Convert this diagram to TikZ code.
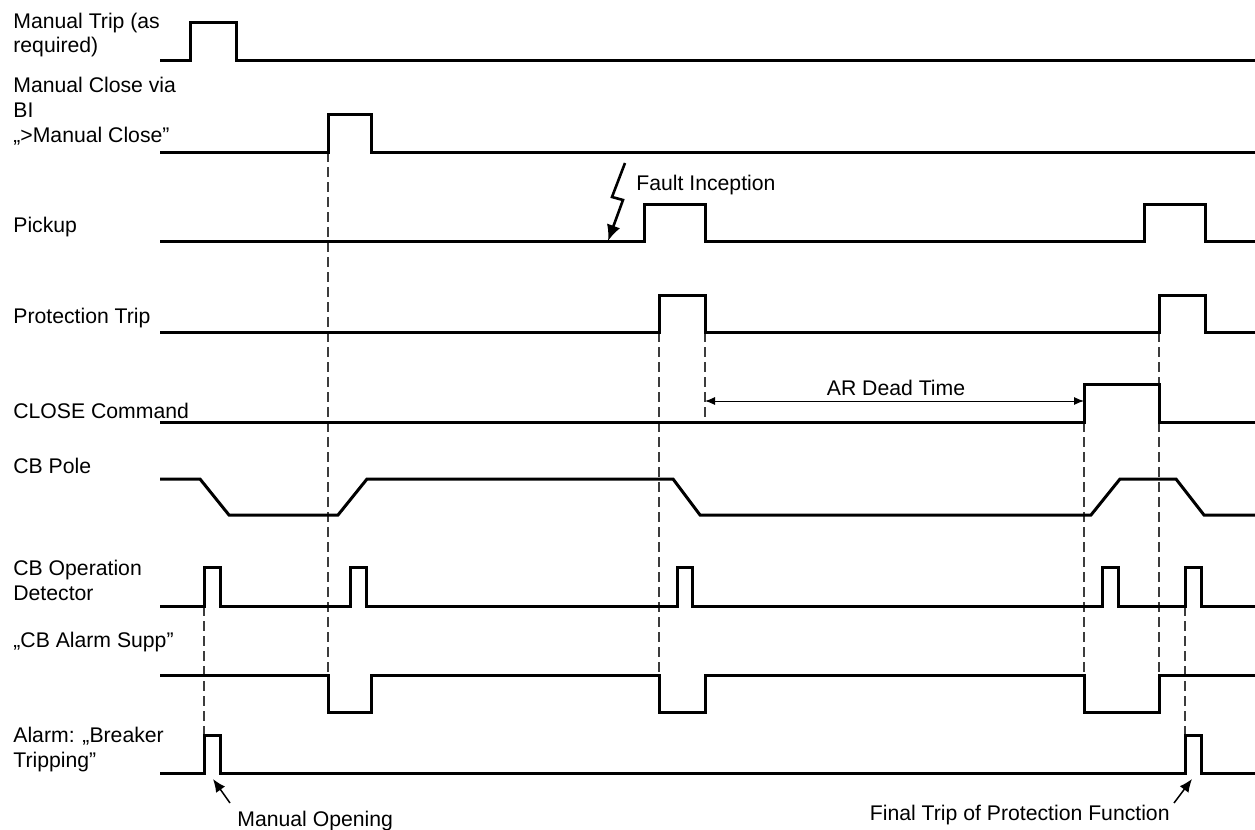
\documentclass[tikz,border=0pt]{standalone}
\usepackage{fontspec}
\setmainfont{Liberation Sans}
\usetikzlibrary{arrows.meta}
\definecolor{GuideGray}{HTML}{3C3C3C}

\begin{document}
\begin{tikzpicture}[x=0.5pt,y=-0.5pt,
  lbl/.style={anchor=base west,inner sep=0,align=left,
    font=\fontsize{10.6}{12.4}\selectfont},
  sig/.style={line width=1.5pt},
  guide/.style={GuideGray,line width=0.7pt,dash pattern=on 5pt off 2.5pt},
  note/.style={line width=0.75pt,-{Latex[length=6.5pt,width=5.5pt]}}]
  \useasboundingbox (0,0) rectangle (1255,830);

  % signal names (base = last line)
  \node[lbl] (MT) at (13,53) {Manual Trip (as\\required)};
  \node[lbl] (MC) at (13,142) {Manual Close via\\BI\\„>Manual Close”};
  \node[lbl] (PU) at (13,232) {Pickup};
  \node[lbl] (PT) at (13,323) {Protection Trip};
  \node[lbl] (CC) at (13,418) {CLOSE Command};
  \node[lbl] (CBP) at (13,473) {CB Pole};
  \node[lbl] (CBOD) at (13,600) {CB Operation\\Detector};
  \node[lbl] (SUPP) at (13,647) {„CB Alarm Supp”};
  \node[lbl] (ALM) at (13,767) {Alarm: „Breaker\\Tripping”};

  % guides
  \draw[guide] (328,152) -- (328,712);
  \draw[guide] (659,332) -- (659,712);
  \draw[guide] (705,332) -- (705,422);
  \draw[guide] (1084,422) -- (1084,712);
  \draw[guide] (1159,332) -- (1159,712);
  \draw[guide] (204,606) -- (204,736);
  \draw[guide] (1185,606) -- (1185,736);

  % traces
  \draw[sig] (160,60) -- (190,60) -- (190,22) -- (236,22) -- (236,60) -- (1255,60);
  \draw[sig] (160,152) -- (328,152) -- (328,114) -- (371,114) -- (371,152) -- (1255,152);
  \draw[sig] (160,241) -- (644,241) -- (644,204) -- (705,204) -- (705,241)
    -- (1144,241) -- (1144,204) -- (1205,204) -- (1205,241) -- (1255,241);
  \draw[sig] (160,332) -- (659,332) -- (659,295) -- (705,295) -- (705,332)
    -- (1159,332) -- (1159,295) -- (1205,295) -- (1205,332) -- (1255,332);
  \draw[sig] (160,422) -- (1084,422) -- (1084,384) -- (1159,384) -- (1159,422) -- (1255,422);
  \draw[sig] (160,479) -- (200,479) -- (229,515) -- (338,515) -- (367,479)
    -- (673,479) -- (700,515) -- (1091,515) -- (1120,479) -- (1176,479)
    -- (1204,515) -- (1255,515);
  \draw[sig] (160,606) -- (204,606) -- (204,567) -- (220,567) -- (220,606)
    -- (350,606) -- (350,567) -- (366,567) -- (366,606)
    -- (677,606) -- (677,567) -- (692,567) -- (692,606)
    -- (1102,606) -- (1102,567) -- (1118,567) -- (1118,606)
    -- (1185,606) -- (1185,567) -- (1201,567) -- (1201,606) -- (1255,606);
  \draw[sig] (160,675) -- (328,675) -- (328,712) -- (371,712) -- (371,675)
    -- (659,675) -- (659,712) -- (705,712) -- (705,675)
    -- (1084,675) -- (1084,712) -- (1159,712) -- (1159,675) -- (1255,675);
  \draw[sig] (160,773) -- (204,773) -- (204,735) -- (220,735) -- (220,773)
    -- (1185,773) -- (1185,735) -- (1201,735) -- (1201,773) -- (1255,773);

  % fault inception
  \coordinate (FIa) at (625,163);
  \coordinate (FIb) at (612,197);
  \coordinate (FIc) at (623,200);
  \coordinate (FIt) at (608,241);
  \draw[line width=1.3pt,-{Latex[length=8pt,width=7pt]}] (FIa) -- (FIb) -- (FIc) -- (FIt);
  \node[lbl] (FI) at (636,190) {Fault Inception};

  % dead time
  \coordinate (DTa) at (705,401);
  \coordinate (DTb) at (1084,401);
  \draw[line width=0.5pt,{Latex[length=5pt,width=4pt]}-{Latex[length=5pt,width=4pt]}]
    (DTa) -- (DTb);
  \node[lbl,anchor=base] (DT) at (896,395) {AR Dead Time};

  % notes
  \coordinate (MOtail) at (230,803);
  \coordinate (MOtip) at (213,779);
  \draw[note] (MOtail) -- (MOtip);
  \node[lbl] (MO) at (237,826) {Manual Opening};
  \coordinate (FTtail) at (1174,803);
  \coordinate (FTtip) at (1192,779);
  \draw[note] (FTtail) -- (FTtip);
  \node[lbl,anchor=base east] (FT) at (1170,820) {Final Trip of Protection Function};
\end{tikzpicture}
\end{document}
